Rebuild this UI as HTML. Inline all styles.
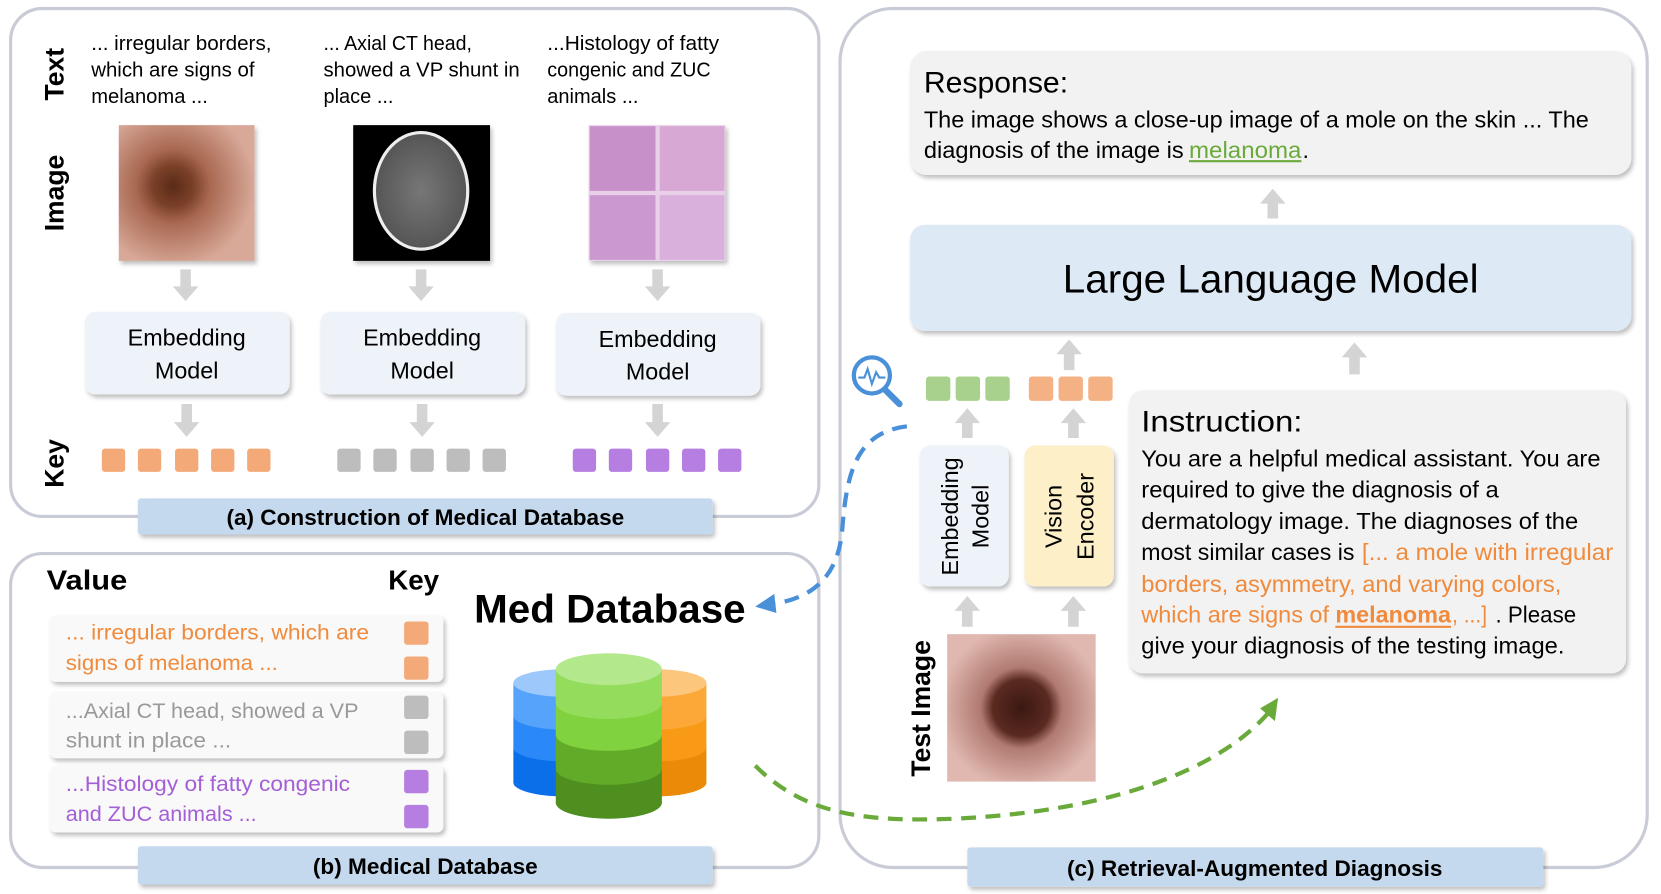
<!DOCTYPE html>
<html><head><meta charset="utf-8"><style>
html,body{margin:0;padding:0;background:#fff;width:1661px;height:894px;overflow:hidden}
svg{display:block}
text{font-family:"Liberation Sans",sans-serif}
</style></head><body>
<svg width="1661" height="894" viewBox="0 0 1566 843" preserveAspectRatio="none" xmlns="http://www.w3.org/2000/svg">
<defs>
<filter id="sh" x="-10%" y="-10%" width="130%" height="140%"><feDropShadow dx="2" dy="3" stdDeviation="2" flood-color="#000" flood-opacity="0.25"/></filter>
<radialGradient id="mole" cx="40%" cy="45%" r="60%"><stop offset="0" stop-color="#5a2a18"/><stop offset="0.25" stop-color="#7a4028"/><stop offset="0.45" stop-color="#a86850"/><stop offset="1" stop-color="#d8a898"/></radialGradient>
<radialGradient id="mole2" cx="50%" cy="50%" r="55%"><stop offset="0" stop-color="#3a1812"/><stop offset="0.35" stop-color="#5a2a20"/><stop offset="0.5" stop-color="#b07a70"/><stop offset="1" stop-color="#e0b8b0"/></radialGradient>
<radialGradient id="brain" cx="50%" cy="50%" r="50%"><stop offset="0" stop-color="#777"/><stop offset="1" stop-color="#555"/></radialGradient>
</defs>

<!-- Panels -->
<rect x="10" y="8" width="762" height="479" rx="30" fill="#fff" stroke="#c9ccd6" stroke-width="3"/>
<rect x="10" y="522" width="762" height="296" rx="30" fill="#fff" stroke="#c9ccd6" stroke-width="3"/>
<rect x="792" y="8" width="761" height="810" rx="50" fill="#fff" stroke="#c9ccd6" stroke-width="3"/>

<!-- Label bars -->
<rect x="130" y="470" width="542" height="34" rx="3" fill="#c5d9ee" filter="url(#sh)"/>
<text x="401" y="495" font-size="21" font-weight="bold" text-anchor="middle" textLength="375" lengthAdjust="spacingAndGlyphs">(a) Construction of Medical Database</text>
<rect x="130" y="798" width="542" height="36" rx="3" fill="#c5d9ee" filter="url(#sh)"/>
<text x="401" y="824" font-size="21" font-weight="bold" text-anchor="middle" textLength="212" lengthAdjust="spacingAndGlyphs">(b) Medical Database</text>
<rect x="912" y="799" width="543" height="37" rx="3" fill="#c5d9ee" filter="url(#sh)"/>
<text x="1183" y="826" font-size="21" font-weight="bold" text-anchor="middle" textLength="354" lengthAdjust="spacingAndGlyphs">(c) Retrieval-Augmented Diagnosis</text>

<!-- Panel a side labels -->
<text transform="translate(60,70) rotate(-90)" font-size="25" font-weight="bold" text-anchor="middle">Text</text>
<text transform="translate(60,182) rotate(-90)" font-size="25" font-weight="bold" text-anchor="middle">Image</text>
<text transform="translate(60,437) rotate(-90)" font-size="25" font-weight="bold" text-anchor="middle">Key</text>

<!-- Panel a texts -->
<g font-size="19">
<text x="86" y="47" textLength="170" lengthAdjust="spacingAndGlyphs">... irregular borders,</text>
<text x="86" y="72" textLength="154" lengthAdjust="spacingAndGlyphs">which are signs of</text>
<text x="86" y="97" textLength="110" lengthAdjust="spacingAndGlyphs">melanoma ...</text>
<text x="305" y="47" textLength="140" lengthAdjust="spacingAndGlyphs">... Axial CT head,</text>
<text x="305" y="72" textLength="185" lengthAdjust="spacingAndGlyphs">showed a VP shunt in</text>
<text x="305" y="97" textLength="66" lengthAdjust="spacingAndGlyphs">place ...</text>
<text x="516" y="47" textLength="162" lengthAdjust="spacingAndGlyphs">...Histology of fatty</text>
<text x="516" y="72" textLength="154" lengthAdjust="spacingAndGlyphs">congenic and ZUC</text>
<text x="516" y="97" textLength="86" lengthAdjust="spacingAndGlyphs">animals ...</text>
</g>

<!-- Images -->
<rect x="112" y="118" width="128" height="128" fill="url(#mole)" filter="url(#sh)"/>
<rect x="333" y="118" width="129" height="128" fill="#000" filter="url(#sh)"/>
<ellipse cx="397" cy="180" rx="44" ry="55" fill="url(#brain)" stroke="#eee" stroke-width="3"/>
<g filter="url(#sh)">
<rect x="555" y="118" width="129" height="128" fill="#e8d0e8"/>
<rect x="556" y="119" width="62" height="61" fill="#c890c8"/>
<rect x="622" y="119" width="61" height="61" fill="#d8a8d4"/>
<rect x="556" y="184" width="62" height="61" fill="#cc98d0"/>
<rect x="622" y="184" width="61" height="61" fill="#d9b0dc"/>
</g>

<!-- down arrows panel a -->
<g fill="#d4d4d4">
<polygon points="170,254 180,254 180,270 187,270 175,284 163,270 170,270"/>
<polygon points="392,254 402,254 402,270 409,270 397,284 385,270 392,270"/>
<polygon points="615,254 625,254 625,270 632,270 620,284 608,270 615,270"/>
<polygon points="171,381 181,381 181,398 188,398 176,412 164,398 171,398"/>
<polygon points="393,381 403,381 403,398 410,398 398,412 386,398 393,398"/>
<polygon points="615,381 625,381 625,398 632,398 620,412 608,398 615,398"/>
</g>

<!-- Embedding boxes -->
<g fill="#eef2f9" filter="url(#sh)">
<rect x="80" y="294" width="193" height="78" rx="10"/>
<rect x="302" y="294" width="193" height="78" rx="10"/>
<rect x="524" y="295" width="193" height="78" rx="10"/>
</g>
<g font-size="22" text-anchor="middle">
<text x="176" y="326">Embedding</text><text x="176" y="357">Model</text>
<text x="398" y="326">Embedding</text><text x="398" y="357">Model</text>
<text x="620" y="327">Embedding</text><text x="620" y="358">Model</text>
</g>

<!-- keys panel a -->
<g fill="#f4aa78">
<rect x="96" y="423" width="22" height="22" rx="3"/><rect x="130" y="423" width="22" height="22" rx="3"/><rect x="165" y="423" width="22" height="22" rx="3"/><rect x="199" y="423" width="22" height="22" rx="3"/><rect x="233" y="423" width="22" height="22" rx="3"/>
</g>
<g fill="#bdbdbd">
<rect x="318" y="423" width="22" height="22" rx="3"/><rect x="352" y="423" width="22" height="22" rx="3"/><rect x="387" y="423" width="22" height="22" rx="3"/><rect x="421" y="423" width="22" height="22" rx="3"/><rect x="455" y="423" width="22" height="22" rx="3"/>
</g>
<g fill="#b57ee0">
<rect x="540" y="423" width="22" height="22" rx="3"/><rect x="574" y="423" width="22" height="22" rx="3"/><rect x="609" y="423" width="22" height="22" rx="3"/><rect x="643" y="423" width="22" height="22" rx="3"/><rect x="677" y="423" width="22" height="22" rx="3"/>
</g>

<!-- Panel b -->
<text x="44" y="556" font-size="26" font-weight="bold" textLength="76" lengthAdjust="spacingAndGlyphs">Value</text>
<text x="366" y="556" font-size="26" font-weight="bold" textLength="48" lengthAdjust="spacingAndGlyphs">Key</text>
<g fill="#f9f9f9" filter="url(#sh)">
<rect x="47" y="580" width="371" height="63" rx="6"/>
<rect x="47" y="652" width="371" height="63" rx="6"/>
<rect x="47" y="722" width="371" height="63" rx="6"/>
</g>
<g font-size="20">
<text x="62" y="603" fill="#f08a3c" textLength="286" lengthAdjust="spacingAndGlyphs">... irregular borders, which are</text>
<text x="62" y="632" fill="#f08a3c" textLength="200" lengthAdjust="spacingAndGlyphs">signs of melanoma ...</text>
<text x="62" y="677" fill="#999" textLength="276" lengthAdjust="spacingAndGlyphs">...Axial CT head, showed a VP</text>
<text x="62" y="705" fill="#999" textLength="156" lengthAdjust="spacingAndGlyphs">shunt in place ...</text>
<text x="62" y="746" fill="#a45ed6" textLength="268" lengthAdjust="spacingAndGlyphs">...Histology of fatty congenic</text>
<text x="62" y="774" fill="#a45ed6" textLength="180" lengthAdjust="spacingAndGlyphs">and ZUC animals ...</text>
</g>
<rect x="381" y="586" width="23" height="22" rx="3" fill="#f4aa78"/>
<rect x="381" y="619" width="23" height="22" rx="3" fill="#f4aa78"/>
<rect x="381" y="656" width="23" height="22" rx="3" fill="#bdbdbd"/>
<rect x="381" y="689" width="23" height="22" rx="3" fill="#bdbdbd"/>
<rect x="381" y="726" width="23" height="22" rx="3" fill="#b57ee0"/>
<rect x="381" y="759" width="23" height="22" rx="3" fill="#b57ee0"/>

<text x="447" y="587" font-size="38" font-weight="bold" textLength="256" lengthAdjust="spacingAndGlyphs">Med Database</text>

<!-- cylinders -->
<g>
<ellipse cx="532" cy="738" rx="48" ry="13" fill="#0a6fe8"/>
<rect x="484" y="705" width="96" height="33" fill="#0a6fe8"/>
<ellipse cx="532" cy="705" rx="48" ry="13" fill="#2a88f8"/>
<rect x="484" y="675" width="96" height="30" fill="#2a88f8"/>
<ellipse cx="532" cy="675" rx="48" ry="13" fill="#55a3fa"/>
<rect x="484" y="644" width="96" height="31" fill="#55a3fa"/>
<ellipse cx="532" cy="644" rx="48" ry="13" fill="#9cc8fc"/>
<ellipse cx="618" cy="738" rx="48" ry="13" fill="#ea8a08"/>
<rect x="570" y="705" width="96" height="33" fill="#ea8a08"/>
<ellipse cx="618" cy="705" rx="48" ry="13" fill="#f89a16"/>
<rect x="570" y="675" width="96" height="30" fill="#f89a16"/>
<ellipse cx="618" cy="675" rx="48" ry="13" fill="#fba838"/>
<rect x="570" y="644" width="96" height="31" fill="#fba838"/>
<ellipse cx="618" cy="644" rx="48" ry="13" fill="#fcc77c"/>
<ellipse cx="574" cy="757" rx="50" ry="15" fill="#4e8f20"/>
<rect x="524" y="725" width="100" height="32" fill="#4e8f20"/>
<ellipse cx="574" cy="725" rx="50" ry="15" fill="#62ab28"/>
<rect x="524" y="693" width="100" height="32" fill="#62ab28"/>
<ellipse cx="574" cy="693" rx="50" ry="15" fill="#80d23e"/>
<rect x="524" y="663" width="100" height="30" fill="#80d23e"/>
<ellipse cx="574" cy="663" rx="50" ry="15" fill="#94dc5c"/>
<rect x="524" y="631" width="100" height="32" fill="#94dc5c"/>
<ellipse cx="574" cy="631" rx="50" ry="15" fill="#b4e88c"/>
</g>

<!-- Panel c -->
<rect x="858" y="48" width="680" height="117" rx="16" fill="#f2f2f2" filter="url(#sh)"/>
<text x="871" y="87" font-size="28" textLength="136" lengthAdjust="spacingAndGlyphs">Response:</text>
<text x="871" y="120" font-size="22" textLength="627" lengthAdjust="spacingAndGlyphs">The image shows a close-up image of a mole on the skin ... The</text>
<text x="871" y="149" font-size="22" textLength="245" lengthAdjust="spacingAndGlyphs">diagnosis of the image is</text>
<text x="1121" y="149" font-size="22" fill="#6aaa3a" textLength="106" lengthAdjust="spacingAndGlyphs">melanoma</text>
<line x1="1121" y1="152" x2="1227" y2="152" stroke="#6aaa3a" stroke-width="2"/>
<text x="1228" y="149" font-size="22">.</text>

<g fill="#d4d4d4">
<polygon points="1195,206 1205,206 1205,192 1212,192 1200,178 1188,192 1195,192"/>
<polygon points="1003,349 1013,349 1013,334 1020,334 1008,320 996,334 1003,334"/>
<polygon points="1272,353 1282,353 1282,337 1289,337 1277,323 1265,337 1272,337"/>
<polygon points="907,413 917,413 917,399 924,399 912,385 900,399 907,399"/>
<polygon points="1007,413 1017,413 1017,399 1024,399 1012,385 1000,399 1007,399"/>
<polygon points="907,591 917,591 917,576 924,576 912,562 900,576 907,576"/>
<polygon points="1007,591 1017,591 1017,576 1024,576 1012,562 1000,576 1007,576"/>
</g>

<rect x="858" y="212" width="680" height="100" rx="14" fill="#dde9f5" filter="url(#sh)"/>
<text x="1198" y="276" font-size="38" text-anchor="middle" textLength="392" lengthAdjust="spacingAndGlyphs">Large Language Model</text>

<g fill="#a9d18e"><rect x="873" y="355" width="23" height="23" rx="3"/><rect x="901" y="355" width="23" height="23" rx="3"/><rect x="929" y="355" width="23" height="23" rx="3"/></g>
<g fill="#f4b183"><rect x="970" y="355" width="23" height="23" rx="3"/><rect x="998" y="355" width="23" height="23" rx="3"/><rect x="1026" y="355" width="23" height="23" rx="3"/></g>

<g stroke="#4a90d9" fill="none" stroke-linecap="round">
<circle cx="822" cy="354" r="17" stroke-width="4" fill="#fff"/>
<line x1="835" y1="368" x2="848" y2="381" stroke-width="6"/>
<polyline points="810,356 815,356 818,348 822,362 826,351 829,356 834,356" stroke-width="2"/>
</g>

<rect x="867" y="420" width="84" height="133" rx="10" fill="#eef2f9" filter="url(#sh)"/>
<rect x="966" y="420" width="84" height="133" rx="10" fill="#fdf0c8" filter="url(#sh)"/>
<g font-size="22" text-anchor="middle">
<text transform="translate(903,487) rotate(-90)">Embedding</text>
<text transform="translate(932,487) rotate(-90)">Model</text>
<text transform="translate(1001,487) rotate(-90)">Vision</text>
<text transform="translate(1031,487) rotate(-90)">Encoder</text>
</g>

<text transform="translate(877,668) rotate(-90)" font-size="25" font-weight="bold" text-anchor="middle">Test Image</text>
<rect x="893" y="598" width="140" height="139" fill="url(#mole2)"/>

<rect x="1064" y="368" width="469" height="267" rx="14" fill="#f2f2f2" filter="url(#sh)"/>
<text x="1076" y="407" font-size="28" textLength="152" lengthAdjust="spacingAndGlyphs">Instruction:</text>
<g font-size="22">
<text x="1076" y="440" textLength="433" lengthAdjust="spacingAndGlyphs">You are a helpful medical assistant.  You are</text>
<text x="1076" y="469" textLength="337" lengthAdjust="spacingAndGlyphs">required to give the diagnosis of a</text>
<text x="1076" y="499" textLength="412" lengthAdjust="spacingAndGlyphs">dermatology image. The diagnoses of the</text>
<text x="1076" y="528" textLength="201" lengthAdjust="spacingAndGlyphs">most similar cases is</text>
<text x="1284" y="528" fill="#f08a3c" textLength="237" lengthAdjust="spacingAndGlyphs">[... a mole with irregular</text>
<text x="1076" y="558" fill="#f08a3c" textLength="396" lengthAdjust="spacingAndGlyphs">borders, asymmetry, and varying colors,</text>
<text x="1076" y="587" fill="#f08a3c" textLength="177" lengthAdjust="spacingAndGlyphs">which are signs of</text>
<text x="1259" y="587" fill="#f08a3c" font-weight="bold" textLength="109" lengthAdjust="spacingAndGlyphs">melanoma</text>
<line x1="1259" y1="591" x2="1368" y2="591" stroke="#f08a3c" stroke-width="2"/>
<text x="1369" y="587" fill="#f08a3c" textLength="33" lengthAdjust="spacingAndGlyphs">, ...]</text>
<text x="1410" y="587" textLength="76" lengthAdjust="spacingAndGlyphs">. Please</text>
<text x="1076" y="616" textLength="399" lengthAdjust="spacingAndGlyphs">give your diagnosis of the testing image.</text>
</g>

<path d="M855,402 C 805,408 798,450 794,500 C 790,545 765,565 725,570" fill="none" stroke="#4a90d9" stroke-width="4" stroke-dasharray="14,9"/>
<polygon points="712,572 730,560 732,578" fill="#4a90d9"/>
<path d="M712,722 C 760,770 820,775 900,772 C 1050,765 1150,725 1196,672" fill="none" stroke="#6aaa3a" stroke-width="4" stroke-dasharray="14,9"/>
<polygon points="1205,658 1202,680 1188,668" fill="#6aaa3a"/>
</svg>
</body></html>
